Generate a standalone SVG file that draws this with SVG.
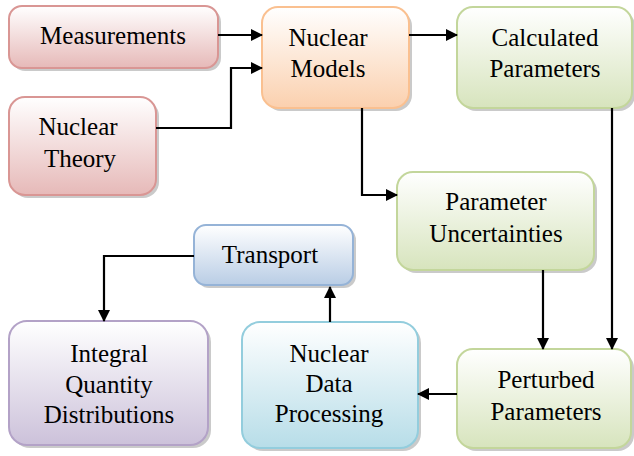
<svg xmlns="http://www.w3.org/2000/svg" width="634" height="456" viewBox="0 0 634 456">
<style>
.t{font-family:"Liberation Serif","Times New Roman",serif;font-size:25px;fill:#000;text-anchor:middle}
.sh{fill:#a6a6a6;opacity:0.6}
.c{fill:none;stroke:#000;stroke-width:2.2}
</style>
<defs>
<linearGradient id="gr" x1="0" y1="0" x2="0" y2="1"><stop offset="0" stop-color="#fff"/><stop offset="1" stop-color="#e6b9b8"/></linearGradient>
<linearGradient id="go" x1="0" y1="0" x2="0" y2="1"><stop offset="0" stop-color="#fff"/><stop offset="1" stop-color="#fbd0ae"/></linearGradient>
<linearGradient id="gg" x1="0" y1="0" x2="0" y2="1"><stop offset="0" stop-color="#fff"/><stop offset="1" stop-color="#d7e4bd"/></linearGradient>
<linearGradient id="gb" x1="0" y1="0" x2="0" y2="1"><stop offset="0" stop-color="#fff"/><stop offset="1" stop-color="#b9cde5"/></linearGradient>
<linearGradient id="gc" x1="0" y1="0" x2="0" y2="1"><stop offset="0" stop-color="#fff"/><stop offset="1" stop-color="#b7dde8"/></linearGradient>
<linearGradient id="gp" x1="0" y1="0" x2="0" y2="1"><stop offset="0" stop-color="#fff"/><stop offset="1" stop-color="#ccc1da"/></linearGradient>
<marker id="ar" viewBox="0 0 12 12" refX="11" refY="6" markerWidth="12" markerHeight="12" markerUnits="userSpaceOnUse" orient="auto"><path d="M0,0L12,6L0,12z" fill="#000"/></marker>
</defs>

<g id="measurements">
<rect class="sh" x="12" y="9" width="209" height="62" rx="13"/>
<rect x="9" y="6" width="209" height="62" rx="13" fill="url(#gr)" stroke="#d99694" stroke-width="2"/>
<text class="t" x="113" y="44">Measurements</text>
</g>
<g id="nuclear-theory">
<rect class="sh" x="12" y="100" width="147" height="98" rx="16"/>
<rect x="9" y="97" width="147" height="98" rx="16" fill="url(#gr)" stroke="#d99694" stroke-width="2"/>
<text class="t" x="78" y="135">Nuclear</text>
<text class="t" x="80" y="167">Theory</text>
</g>
<g id="nuclear-models">
<rect class="sh" x="265" y="10" width="147" height="101" rx="16"/>
<rect x="262" y="7" width="147" height="101" rx="16" fill="url(#go)" stroke="#fac090" stroke-width="2"/>
<text class="t" x="328" y="46">Nuclear</text>
<text class="t" x="328" y="77">Models</text>
</g>
<g id="calculated-parameters">
<rect class="sh" x="460" y="10" width="175" height="101" rx="16"/>
<rect x="457" y="7" width="175" height="101" rx="16" fill="url(#gg)" stroke="#c3d69b" stroke-width="2"/>
<text class="t" x="545" y="46">Calculated</text>
<text class="t" x="545" y="77">Parameters</text>
</g>
<g id="parameter-uncertainties">
<rect class="sh" x="400" y="175" width="197" height="98" rx="16"/>
<rect x="397" y="172" width="197" height="98" rx="16" fill="url(#gg)" stroke="#c3d69b" stroke-width="2"/>
<text class="t" x="496" y="210">Parameter</text>
<text class="t" x="496" y="242">Uncertainties</text>
</g>
<g id="transport">
<rect class="sh" x="197" y="228" width="159" height="60" rx="12"/>
<rect x="194" y="225" width="159" height="60" rx="12" fill="url(#gb)" stroke="#95b3d7" stroke-width="2"/>
<text class="t" x="270" y="263">Transport</text>
</g>
<g id="integral-quantity-distributions">
<rect class="sh" x="12" y="324" width="199" height="124" rx="18"/>
<rect x="9" y="321" width="199" height="124" rx="18" fill="url(#gp)" stroke="#b3a2c7" stroke-width="2"/>
<text class="t" x="109" y="362">Integral</text>
<text class="t" x="109" y="393">Quantity</text>
<text class="t" x="109" y="423">Distributions</text>
</g>
<g id="nuclear-data-processing">
<rect class="sh" x="245" y="325" width="176" height="126" rx="18"/>
<rect x="242" y="322" width="176" height="126" rx="18" fill="url(#gc)" stroke="#93cddd" stroke-width="2"/>
<text class="t" x="329" y="362">Nuclear</text>
<text class="t" x="329" y="392">Data</text>
<text class="t" x="329" y="422">Processing</text>
</g>
<g id="perturbed-parameters">
<rect class="sh" x="460" y="352" width="174" height="99" rx="16"/>
<rect x="457" y="349" width="174" height="99" rx="16" fill="url(#gg)" stroke="#c3d69b" stroke-width="2"/>
<text class="t" x="546" y="388">Perturbed</text>
<text class="t" x="546" y="420">Parameters</text>
</g>

<g id="connectors">
<path class="c" d="M218,35H262" marker-end="url(#ar)"/>
<path class="c" d="M156,128H231V68H262" marker-end="url(#ar)"/>
<path class="c" d="M409,35H457" marker-end="url(#ar)"/>
<path class="c" d="M362,108V195H397" marker-end="url(#ar)"/>
<path class="c" d="M612,108V349" marker-end="url(#ar)"/>
<path class="c" d="M543,270V349" marker-end="url(#ar)"/>
<path class="c" d="M457,394H418" marker-end="url(#ar)"/>
<path class="c" d="M330,322V287" marker-end="url(#ar)"/>
<path class="c" d="M194,256H104V321" marker-end="url(#ar)"/>
</g>
</svg>
